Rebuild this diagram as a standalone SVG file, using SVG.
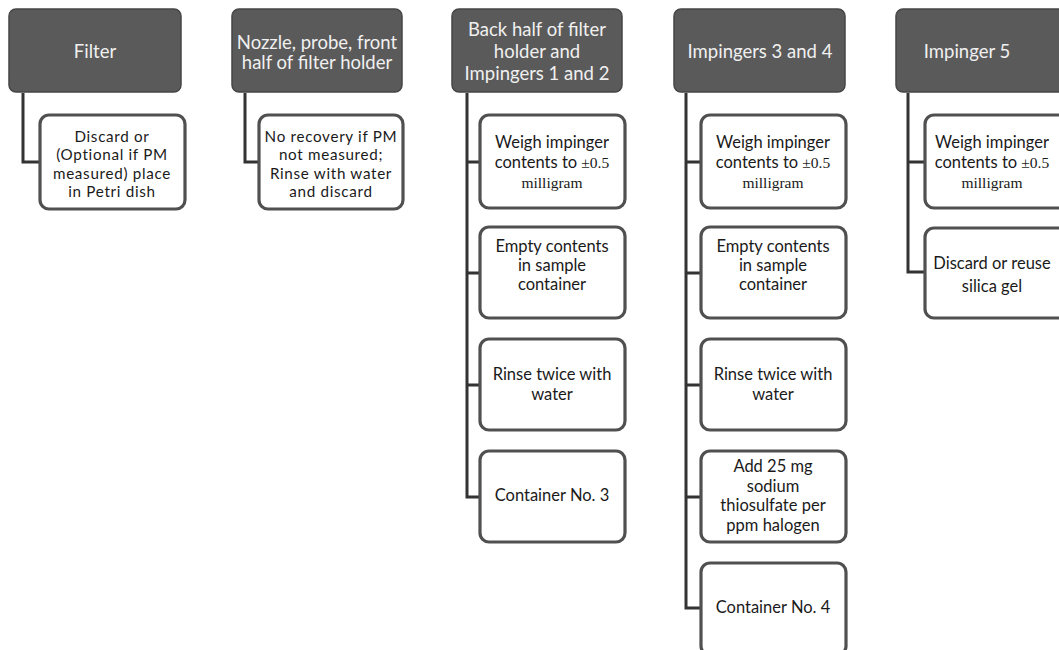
<svg xmlns="http://www.w3.org/2000/svg" width="1059" height="650" viewBox="0 0 1059 650">
<style>
.hdr{fill:#5a5a5a;stroke:#464646;stroke-width:1.5}
.htxt{font-family:Lato,"Liberation Sans",sans-serif;font-size:18.5px;fill:#f0f0f0;text-anchor:middle}
.box{fill:#ffffff;stroke:#505050;stroke-width:3.2}
.btxt{font-family:Lato,"Liberation Sans",sans-serif;font-size:16.5px;fill:#1a1a1a;text-anchor:middle}
.tight{font-size:15.2px;letter-spacing:0.7px}
.serif{font-family:"Liberation Serif",serif;font-size:15.5px}
.conn{fill:none;stroke:#333333;stroke-width:3}
</style>
<rect width="1059" height="650" fill="#ffffff"/>
<g id="connectors">
<path class="conn" d="M23,93 V162 H40"/>
<path class="conn" d="M245,93 V162 H259"/>
<path class="conn" d="M467,93 V497 H480 M467,162 H480 M467,273 H480 M467,385 H480"/>
<path class="conn" d="M686,93 V608 H701 M686,162 H701 M686,273 H701 M686,385 H701 M686,497 H701"/>
<path class="conn" d="M908,93 V272 H925 M908,162 H925"/>
</g>
<g id="filter">
<rect class="hdr" x="9" y="9" width="172" height="83" rx="7"/>
<text class="htxt" x="95" y="58">Filter</text>
</g>
<g id="filter-1">
<rect class="box" x="40" y="115" width="145" height="94" rx="9"/>
<text class="btxt tight"><tspan x="112" y="141.5">Discard or</tspan><tspan x="112" y="160">(Optional if PM</tspan><tspan x="112" y="178.5">measured) place</tspan><tspan x="112" y="197">in Petri dish</tspan></text>
</g>
<g id="nozzle">
<rect class="hdr" x="232" y="9" width="170" height="83" rx="7"/>
<text class="htxt"><tspan x="317" y="49">Nozzle, probe, front</tspan><tspan x="317" y="69">half of filter holder</tspan></text>
</g>
<g id="nozzle-1">
<rect class="box" x="259" y="115" width="144" height="94" rx="9"/>
<text class="btxt tight"><tspan x="331" y="141.5">No recovery if PM</tspan><tspan x="331" y="160">not measured;</tspan><tspan x="331" y="178.5">Rinse with water</tspan><tspan x="331" y="197">and discard</tspan></text>
</g>
<g id="backhalf">
<rect class="hdr" x="452" y="9" width="170" height="83" rx="7"/>
<text class="htxt"><tspan x="537" y="36">Back half of filter</tspan><tspan x="537" y="58">holder and</tspan><tspan x="537" y="80">Impingers 1 and 2</tspan></text>
</g>
<g id="backhalf-1">
<rect class="box" x="480" y="115" width="145" height="93" rx="9"/>
<text class="btxt"><tspan x="552" y="148">Weigh impinger</tspan><tspan x="552" y="168">contents to <tspan class="serif">±0.5</tspan></tspan><tspan x="552" y="188" class="serif">milligram</tspan></text>
</g>
<g id="backhalf-2">
<rect class="box" x="480" y="227" width="145" height="91" rx="9"/>
<text class="btxt"><tspan x="552" y="252">Empty contents</tspan><tspan x="552" y="271">in sample</tspan><tspan x="552" y="290">container</tspan></text>
</g>
<g id="backhalf-3">
<rect class="box" x="480" y="339" width="145" height="91" rx="9"/>
<text class="btxt"><tspan x="552" y="380">Rinse twice with</tspan><tspan x="552" y="400">water</tspan></text>
</g>
<g id="backhalf-4">
<rect class="box" x="480" y="451" width="145" height="91" rx="9"/>
<text class="btxt" x="552" y="501">Container No. 3</text>
</g>
<g id="imp34">
<rect class="hdr" x="674" y="9" width="171" height="83" rx="7"/>
<text class="htxt" x="760" y="58">Impingers 3 and 4</text>
</g>
<g id="imp34-1">
<rect class="box" x="701" y="115" width="145" height="93" rx="9"/>
<text class="btxt"><tspan x="773" y="148">Weigh impinger</tspan><tspan x="773" y="168">contents to <tspan class="serif">±0.5</tspan></tspan><tspan x="773" y="188" class="serif">milligram</tspan></text>
</g>
<g id="imp34-2">
<rect class="box" x="701" y="227" width="145" height="91" rx="9"/>
<text class="btxt"><tspan x="773" y="252">Empty contents</tspan><tspan x="773" y="271">in sample</tspan><tspan x="773" y="290">container</tspan></text>
</g>
<g id="imp34-3">
<rect class="box" x="701" y="339" width="145" height="91" rx="9"/>
<text class="btxt"><tspan x="773" y="380">Rinse twice with</tspan><tspan x="773" y="400">water</tspan></text>
</g>
<g id="imp34-4">
<rect class="box" x="701" y="451" width="145" height="91" rx="9"/>
<text class="btxt"><tspan x="773" y="472">Add 25 mg</tspan><tspan x="773" y="492">sodium</tspan><tspan x="773" y="511">thiosulfate per</tspan><tspan x="773" y="531">ppm halogen</tspan></text>
</g>
<g id="imp34-5">
<rect class="box" x="701" y="563" width="145" height="92" rx="9"/>
<text class="btxt" x="773" y="613">Container No. 4</text>
</g>
<g id="imp5">
<rect class="hdr" x="896" y="9" width="171" height="83" rx="7"/>
<text class="htxt" x="967" y="58">Impinger 5</text>
</g>
<g id="imp5-1">
<rect class="box" x="925" y="115" width="145" height="93" rx="9"/>
<text class="btxt"><tspan x="992" y="148">Weigh impinger</tspan><tspan x="992" y="168">contents to <tspan class="serif">±0.5</tspan></tspan><tspan x="992" y="188" class="serif">milligram</tspan></text>
</g>
<g id="imp5-2">
<rect class="box" x="925" y="228" width="145" height="90" rx="9"/>
<text class="btxt"><tspan x="992" y="269">Discard or reuse</tspan><tspan x="992" y="292">silica gel</tspan></text>
</g>
</svg>
